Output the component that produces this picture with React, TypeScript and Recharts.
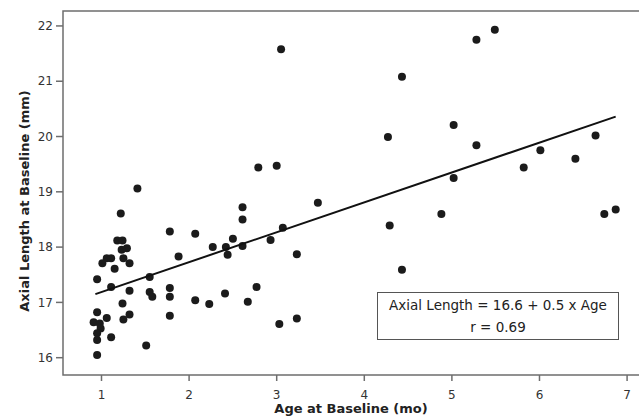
import React from 'react';
import { ScatterChart, Scatter, XAxis, YAxis, ReferenceArea } from 'recharts';

// Age at baseline (months) and axial length (mm)
const ageMonths = [
  1.41, 1.22, 1.78, 2.07, 1.18, 1.24, 1.29, 1.23, 1.25, 1.32,
  1.06, 1.11, 1.01, 1.15, 1.88, 0.95, 1.55, 1.11, 1.32, 1.55,
  1.58, 1.78, 1.78, 2.07, 0.95, 1.24, 1.06, 1.32, 1.25, 0.91,
  0.98, 0.99, 0.95, 0.95, 1.11, 1.78, 1.51, 0.95,
  2.79, 3.0, 2.61, 2.61, 3.47, 2.5, 2.27, 2.42, 2.44, 2.61,
  2.93, 3.07, 3.23, 2.23, 2.41, 2.67, 2.77, 3.03, 3.23,
  4.43, 5.28, 5.49, 4.27, 5.02, 5.28, 6.64, 6.01, 6.41, 5.82,
  5.02, 4.29, 4.88, 6.74, 6.87, 4.43, 3.05,
];
const axialLength = [
  19.06, 18.61, 18.28, 18.24, 18.12, 18.12, 17.98, 17.95, 17.8, 17.71,
  17.8, 17.8, 17.71, 17.61, 17.83, 17.42, 17.46, 17.28, 17.21, 17.19,
  17.1, 17.26, 17.1, 17.04, 16.82, 16.98, 16.72, 16.78, 16.69, 16.64,
  16.62, 16.53, 16.44, 16.32, 16.37, 16.76, 16.22, 16.05,
  19.44, 19.47, 18.72, 18.5, 18.8, 18.15, 18.0, 18.0, 17.86, 18.02,
  18.13, 18.35, 17.87, 16.97, 17.16, 17.01, 17.28, 16.61, 16.71,
  21.08, 21.75, 21.93, 19.99, 20.21, 19.84, 20.02, 19.75, 19.6, 19.44,
  19.25, 18.39, 18.6, 18.6, 18.68, 17.59, 21.58,
];

// fitted line end points
const fitAge = [0.93, 6.87];
const fitLength = [17.15, 20.36];

const xTicks = [1, 2, 3, 4, 5, 6, 7];
const yTicks = [16, 17, 18, 19, 20, 21, 22];

const points = ageMonths.map((x, i) => ({ x, y: axialLength[i] }));
const fitLine = fitAge.map((x, i) => ({ x, y: fitLength[i] }));

const font = "'DejaVu Sans', Verdana, sans-serif";
const frameColor = '#6e6e6e';

const Dot = (props: any) => <circle cx={props.cx} cy={props.cy} r={4} fill="#1b1b1b" />;

export default function App() {
  return (
    <div style={{ position: 'absolute', left: 0, top: 0, width: 639, height: 419, background: '#fff', fontFamily: font }}>
      <ScatterChart width={639} height={419} margin={{ top: 11, right: 0, bottom: 14, left: 0 }}>
        <ReferenceArea
          x1={0.5605}
          x2={7.2}
          y1={15.687}
          y2={22.27}
          fill="none"
          stroke={frameColor}
          strokeWidth={1.5}
          ifOverflow="visible"
        />
        <XAxis
          type="number"
          dataKey="x"
          domain={[0.5605, 7.136]}
          ticks={xTicks}
          allowDataOverflow
          height={30}
          axisLine={false}
          tickLine={{ stroke: frameColor, strokeWidth: 1.5 }}
          tickSize={6}
          tickMargin={9}
          tick={{ fill: '#333', fontSize: 12, fontFamily: font }}
          label={(p: any) => (
            <text x={351} y={413} textAnchor="middle" fontFamily={font} fontSize={13} fontWeight="bold" fill="#222">
              Age at Baseline (mo)
            </text>
          )}
        />
        <YAxis
          type="number"
          dataKey="y"
          domain={[15.687, 22.27]}
          ticks={yTicks}
          allowDataOverflow
          width={63}
          axisLine={false}
          tickLine={{ stroke: frameColor, strokeWidth: 1.5 }}
          tickSize={7}
          tickMargin={3}
          tick={{ fill: '#333', fontSize: 12, fontFamily: font }}
          label={(p: any) => (
            <text
              x={29}
              y={201}
              transform="rotate(-90, 29, 201)"
              textAnchor="middle"
              fontFamily={font}
              fontSize={13}
              fontWeight="bold"
              fill="#222"
            >
              Axial Length at Baseline (mm)
            </text>
          )}
        />
        <Scatter data={points} shape={Dot} isAnimationActive={false} />
        <Scatter
          data={fitLine}
          line={{ stroke: '#111', strokeWidth: 2 }}
          shape={() => <g />}
          isAnimationActive={false}
        />
      </ScatterChart>
      <div
        style={{
          position: 'absolute',
          left: 377,
          top: 292,
          width: 240,
          height: 45,
          border: '1px solid #555',
          textAlign: 'center',
          fontSize: 13.5,
          lineHeight: '22px',
          color: '#222',
          paddingTop: 1,
        }}
      >
        <div>Axial Length = 16.6 + 0.5 x Age</div>
        <div>r = 0.69</div>
      </div>
    </div>
  );
}
